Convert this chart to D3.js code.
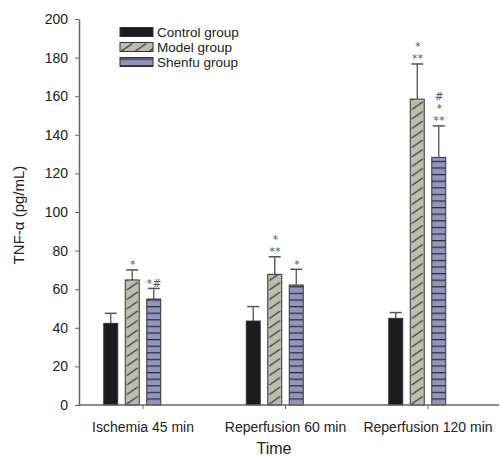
<!DOCTYPE html>
<html>
<head>
<meta charset="utf-8">
<script src="https://cdn.jsdelivr.net/npm/d3@7"></script>
<style>
  body { margin: 0; background: #fff; }
  svg { font-family: "Liberation Sans", Arial, sans-serif; }
</style>
</head>
<body>
<div id="chart"></div>
<script>
// Data
const categories = ["Ischemia 45 min", "Reperfusion 60 min", "Reperfusion 120 min"];
const groups = ["Control group", "Model group", "Shenfu group"];
const controlValues = [42.3, 43.5, 44.9];
const controlErrors = [5.2, 7.5, 3];
const modelValues = [64.8, 67.7, 158.5];
const modelErrors = [5.2, 9.1, 18.2];
const shenfuValues = [54.9, 62.2, 128.3];
const shenfuErrors = [5.5, 8.1, 16.3];
// significance marks, listed from bottom line to top line
const controlMarks = [[], [], []];
const modelMarks = [["*"], ["**", "*"], ["**", "*"]];
const shenfuMarks = [["*#"], ["*"], ["**", "*", "#"]];
const yTicks = [0, 20, 40, 60, 80, 100, 120, 140, 160, 180, 200];

const width = 500;
const height = 456;

const series = [
  { name: groups[0], values: controlValues, errors: controlErrors, marks: controlMarks, kind: "solid" },
  { name: groups[1], values: modelValues, errors: modelErrors, marks: modelMarks, kind: "hatch" },
  { name: groups[2], values: shenfuValues, errors: shenfuErrors, marks: shenfuMarks, kind: "stripe" },
];

const svg = d3.select("#chart")
  .append("svg")
  .attr("width", width)
  .attr("height", height);

const defs = svg.append("defs");

// Scales
const y = d3.scaleLinear().domain([0, 200]).range([405, 19]);
const x0 = d3.scaleBand().domain(categories).range([71.75, 499.25]);
// four slots like the original software; last slot is empty
const x1 = d3.scaleBand()
  .domain([0, 1, 2, 3])
  .range([-43, 43])
  .paddingInner(0.35)
  .paddingOuter(0.175);

const axisColor = "#666";
const fills = { solid: "#1c1c1c", hatch: "#bdbdae", stripe: "#9395bd" };

// patterns per bar so they line up with each bar's edge
function makePattern(id, kind, px, py) {
  const bw = x1.bandwidth();
  if (kind === "hatch") {
    const p = defs.append("pattern")
      .attr("id", id)
      .attr("patternUnits", "userSpaceOnUse")
      .attr("x", px).attr("y", py)
      .attr("width", bw).attr("height", 9.5);
    p.append("rect").attr("width", bw).attr("height", 9.5).attr("fill", fills.hatch);
    p.append("line")
      .attr("x1", 1.5).attr("y1", 8.5)
      .attr("x2", bw - 1.5).attr("y2", 1)
      .attr("stroke", "#2e2e2e").attr("stroke-width", 1.2);
  } else {
    const p = defs.append("pattern")
      .attr("id", id)
      .attr("patternUnits", "userSpaceOnUse")
      .attr("x", px).attr("y", py)
      .attr("width", bw).attr("height", 6.6);
    p.append("rect").attr("width", bw).attr("height", 6.6).attr("fill", fills.stripe);
    p.append("line")
      .attr("x1", 0).attr("y1", 0.6)
      .attr("x2", bw).attr("y2", 0.6)
      .attr("stroke", "#2e2e3a").attr("stroke-width", 1.3);
  }
}

// Bars
series.forEach((s, si) => {
  categories.forEach((c, ci) => {
    const cx = x0(c) + x0.bandwidth() / 2;
    const bx = cx + x1(si);
    const bw = x1.bandwidth();
    const v = s.values[ci];
    let fill = fills.solid;
    if (s.kind !== "solid") {
      const id = `pat-${si}-${ci}`;
      makePattern(id, s.kind, bx, y(0));
      fill = `url(#${id})`;
    }
    const g = svg.append("g");
    // error bar (upper half)
    const top = y(v + s.errors[ci]);
    g.append("line")
      .attr("x1", bx + bw / 2).attr("x2", bx + bw / 2)
      .attr("y1", y(v)).attr("y2", top)
      .attr("stroke", "#555").attr("stroke-width", 1.3);
    g.append("line")
      .attr("x1", bx + bw / 2 - 6).attr("x2", bx + bw / 2 + 6)
      .attr("y1", top).attr("y2", top)
      .attr("stroke", "#555").attr("stroke-width", 1.5);
    g.append("rect")
      .attr("x", bx)
      .attr("y", y(v))
      .attr("width", bw)
      .attr("height", y(0) - y(v))
      .attr("fill", fill)
      .attr("stroke", "#333")
      .attr("stroke-width", 1);
    // significance marks, stacked upwards
    s.marks[ci].forEach((m, mi) => {
      g.append("text")
        .attr("x", bx + bw / 2 + 0.5)
        .attr("y", top - 1.5 - mi * 12.3)
        .attr("text-anchor", "middle")
        .attr("font-family", "DejaVu Sans, sans-serif")
        .attr("font-size", 10.5)
        .attr("letter-spacing", m.length > 1 ? 0.5 : 0)
        .attr("fill", "#555")
        .text(m);
    });
  });
});

// Y axis
const yAxis = svg.append("g")
  .attr("transform", "translate(79,0)")
  .call(d3.axisLeft(y).tickValues(yTicks).tickSize(4).tickSizeOuter(0).tickPadding(7));
yAxis.select(".domain").attr("stroke", axisColor).attr("stroke-width", 1.5);
yAxis.selectAll(".tick line").attr("stroke", axisColor);
yAxis.selectAll(".tick text").attr("font-size", 14).attr("fill", "#222").attr("font-family", "Liberation Sans, Arial, sans-serif");

// X axis
const xAxis = svg.append("g")
  .attr("transform", `translate(0,${y(0)})`)
  .call(d3.axisBottom(x0).tickSize(4).tickPadding(13));
xAxis.select(".domain").remove();
xAxis.append("line")
  .attr("x1", 79).attr("x2", 499)
  .attr("stroke", axisColor).attr("stroke-width", 1.5);
xAxis.selectAll(".tick line").attr("stroke", axisColor);
xAxis.selectAll(".tick text").attr("font-size", 14).attr("fill", "#222").attr("font-family", "Liberation Sans, Arial, sans-serif");

// Axis titles
svg.append("text")
  .attr("x", 274)
  .attr("y", 454)
  .attr("text-anchor", "middle")
  .attr("font-size", 16)
  .attr("fill", "#222")
  .text("Time");

svg.append("text")
  .attr("transform", "translate(24,215) rotate(-90)")
  .attr("text-anchor", "middle")
  .attr("font-size", 15)
  .attr("fill", "#222")
  .text("TNF-α (pg/mL)");

// Legend
const legendY = [32, 47, 62];
series.forEach((s, si) => {
  let fill = fills.solid;
  if (s.kind !== "solid") {
    const id = `leg-${si}`;
    makePattern(id, s.kind, 120, legendY[si] - 4.5 + (s.kind === "stripe" ? 1 : 0));
    fill = `url(#${id})`;
  }
  svg.append("rect")
    .attr("x", 120)
    .attr("y", legendY[si] - 4.5)
    .attr("width", 33)
    .attr("height", 9)
    .attr("fill", fill)
    .attr("stroke", "#333");
  svg.append("text")
    .attr("x", 157)
    .attr("y", legendY[si] + 5)
    .attr("font-size", 13.5)
    .attr("fill", "#222")
    .text(s.name);
});
</script>
</body>
</html>
